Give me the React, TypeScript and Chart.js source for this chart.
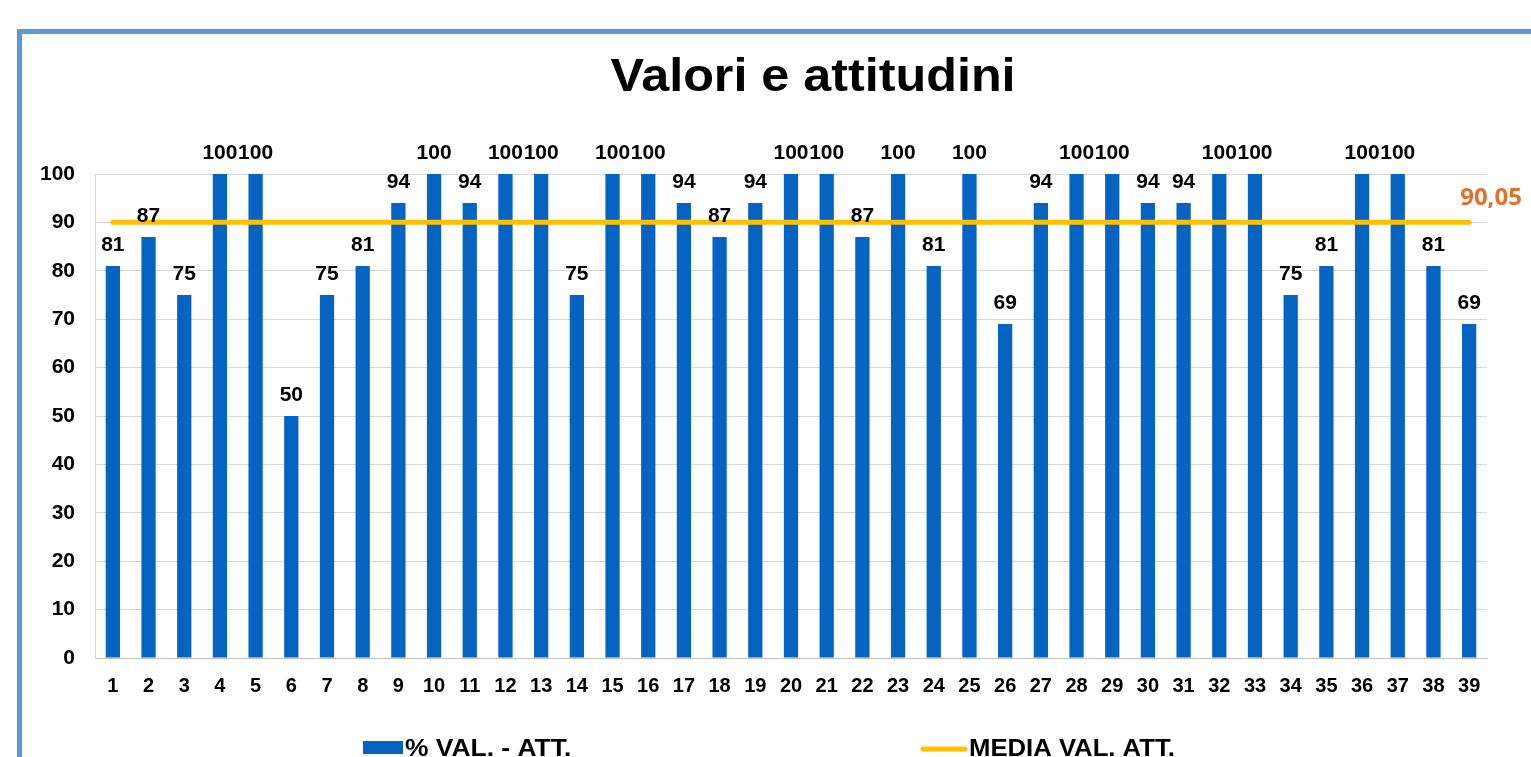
import React, { useEffect, useRef } from "react";
import { Chart, registerables } from "chart.js";

Chart.register(...registerables);

const CATEGORIES = [
  "1", "2", "3", "4", "5", "6", "7", "8", "9", "10",
  "11", "12", "13", "14", "15", "16", "17", "18", "19", "20",
  "21", "22", "23", "24", "25", "26", "27", "28", "29", "30",
  "31", "32", "33", "34", "35", "36", "37", "38", "39",
];

const VALORI = [
  81, 87, 75, 100, 100, 50, 75, 81, 94, 100,
  94, 100, 100, 75, 100, 100, 94, 87, 94, 100,
  100, 87, 100, 81, 100, 69, 94, 100, 100, 94,
  94, 100, 100, 75, 81, 100, 100, 81, 69,
];

const MEDIA = [
  90.05, 90.05, 90.05, 90.05, 90.05, 90.05, 90.05, 90.05, 90.05, 90.05,
  90.05, 90.05, 90.05, 90.05, 90.05, 90.05, 90.05, 90.05, 90.05, 90.05,
  90.05, 90.05, 90.05, 90.05, 90.05, 90.05, 90.05, 90.05, 90.05, 90.05,
  90.05, 90.05, 90.05, 90.05, 90.05, 90.05, 90.05, 90.05, 90.05,
];

const MEDIA_LABEL = "90,05";
const TITLE = "Valori e attitudini";
const LEGEND_BAR = "% VAL. - ATT.";
const LEGEND_LINE = "MEDIA VAL. ATT.";

const FONT = "'Liberation Sans', Arial, sans-serif";
const BAR_COLOR = "#0563C1";
const LINE_COLOR = "#FFC000";

function stretchedText(ctx: any, text: string, x: number, y: number, sx: number, align: string) {
  ctx.save();
  ctx.translate(x, y);
  ctx.scale(sx, 1);
  ctx.textAlign = align;
  ctx.fillText(text, 0, 0);
  ctx.restore();
}

const labelsPlugin = {
  id: "customLabels",
  afterDatasetsDraw(chart: any) {
    const ctx = chart.ctx;
    ctx.save();
    // bar value labels
    const barMeta = chart.getDatasetMeta(0);
    ctx.font = `bold 21px ${FONT}`;
    ctx.fillStyle = "#000";
    ctx.textAlign = "center";
    ctx.textBaseline = "middle";
    barMeta.data.forEach((el: any, i: number) => {
      ctx.fillText(String(VALORI[i]), el.x, el.y - 21);
    });
    // mean label
    const lineMeta = chart.getDatasetMeta(1);
    const last = lineMeta.data[lineMeta.data.length - 1];
    ctx.font = `bold 24px 'Open Sans', ${FONT}`;
    ctx.fillStyle = "#E2702A";
    ctx.textAlign = "left";
    ctx.fillText(MEDIA_LABEL, last.x - 9, last.y - 24);
    ctx.restore();
  },
  afterDraw(chart: any) {
    const ctx = chart.ctx;
    ctx.save();
    // title
    ctx.fillStyle = "#000";
    ctx.textBaseline = "middle";
    ctx.font = `bold 47px ${FONT}`;
    stretchedText(ctx, TITLE, chart.width / 2, 78, 1.07, "center");
    // legend
    const y = 749;
    ctx.fillStyle = BAR_COLOR;
    ctx.fillRect(363, 741, 40, 13);
    ctx.font = `bold 24px ${FONT}`;
    ctx.fillStyle = "#000";
    stretchedText(ctx, LEGEND_BAR, 405, y, 1.1, "left");
    ctx.strokeStyle = LINE_COLOR;
    ctx.lineWidth = 5;
    ctx.lineCap = "round";
    ctx.beginPath();
    ctx.moveTo(923, y);
    ctx.lineTo(965, y);
    ctx.stroke();
    stretchedText(ctx, LEGEND_LINE, 969, y, 1.07, "left");
    ctx.restore();
  },
};

export default function App() {
  const canvasRef = useRef<HTMLCanvasElement | null>(null);

  useEffect(() => {
    if (!canvasRef.current) return;
    Chart.defaults.font.family = FONT;
    const chart = new Chart(canvasRef.current, {
      type: "bar",
      data: {
        labels: CATEGORIES,
        datasets: [
          {
            type: "bar",
            label: LEGEND_BAR,
            data: VALORI,
            backgroundColor: BAR_COLOR,
            borderColor: "#0B4E9A",
            borderWidth: 0,
            barPercentage: 0.4,
            categoryPercentage: 1,
            order: 1,
          },
          {
            type: "line",
            label: LEGEND_LINE,
            data: MEDIA,
            borderColor: LINE_COLOR,
            borderWidth: 5,
            borderCapStyle: "round",
            pointRadius: 0,
            fill: false,
            order: 0,
          } as any,
        ],
      },
      options: {
        responsive: false,
        animation: false,
        devicePixelRatio: 1,
        layout: { padding: { left: 0, right: 139, top: 174, bottom: 92 } },
        plugins: {
          legend: { display: false },
          tooltip: { enabled: false },
          title: { display: false },
        },
        scales: {
          x: {
            grid: { display: false },
            border: { display: true, color: "#BFBFBF", width: 1 },
            ticks: {
              color: "#000",
              font: { size: 20, weight: "bold" },
              padding: 8,
              maxRotation: 0,
              autoSkip: false,
            },
            afterFit(scale: any) {
              scale.height = 50;
            },
          },
          y: {
            min: 0,
            max: 100,
            grid: { color: "#D9D9D9", drawTicks: false },
            border: { display: true, color: "#D9D9D9" },
            ticks: {
              stepSize: 10,
              color: "#000",
              font: { size: 21, weight: "bold" },
              padding: 20,
            },
            afterFit(scale: any) {
              scale.width = 95;
            },
          },
        },
      },
      plugins: [labelsPlugin],
    });
    return () => chart.destroy();
  }, []);

  return (
    <div style={{ position: "fixed", inset: 0, overflow: "hidden", background: "#fff" }}>
      <div
        style={{
          position: "absolute",
          left: 17,
          top: 29,
          width: 1700,
          height: 900,
          border: "5px solid #5B9BD5",
          boxSizing: "border-box",
        }}
      />
      <canvas
        ref={canvasRef}
        width={1626}
        height={800}
        style={{ position: "absolute", left: 0, top: 0, display: "block" }}
      />
    </div>
  );
}
